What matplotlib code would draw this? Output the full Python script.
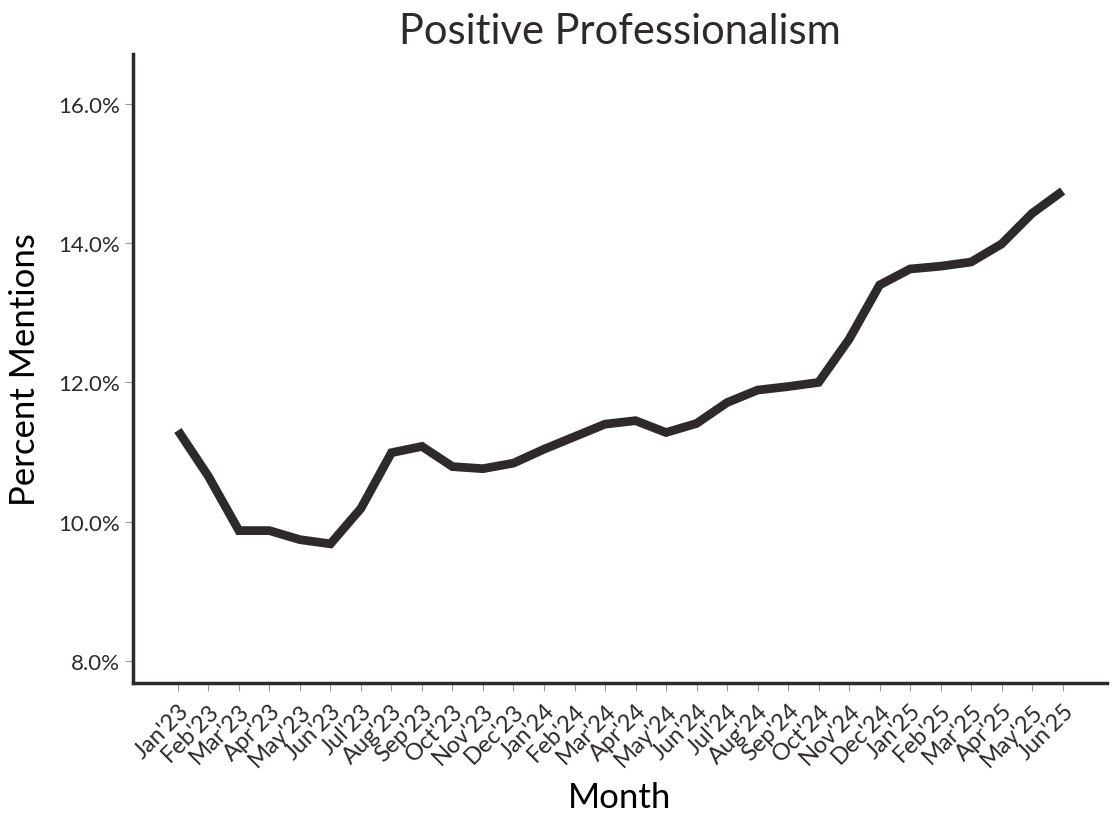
import matplotlib
matplotlib.use("Agg")
import matplotlib.pyplot as plt
from matplotlib.ticker import FuncFormatter

plt.rcParams['font.family'] = ['Lato', 'DejaVu Sans']

months = ["Jan'23", "Feb'23", "Mar'23", "Apr'23", "May'23", "Jun'23", "Jul'23", "Aug'23",
          "Sep'23", "Oct'23", "Nov'23", "Dec'23", "Jan'24", "Feb'24", "Mar'24", "Apr'24",
          "May'24", "Jun'24", "Jul'24", "Aug'24", "Sep'24", "Oct'24", "Nov'24", "Dec'24",
          "Jan'25", "Feb'25", "Mar'25", "Apr'25", "May'25", "Jun'25"]
values = [11.31, 10.65, 9.87, 9.87, 9.74, 9.68, 10.19, 10.99, 11.08, 10.79, 10.76, 10.84,
          11.04, 11.22, 11.40, 11.45, 11.28, 11.41, 11.71, 11.89, 11.94, 12.00, 12.62, 13.40,
          13.63, 13.67, 13.73, 13.99, 14.43, 14.75]
yticks = [8, 10, 12, 14, 16]

dark = '#2e292b'
fig = plt.figure(figsize=(11.2, 8.28), dpi=100)
ax = fig.add_axes([0.1188, 0.1739, 0.8692, 0.7597])
x = list(range(len(months)))
ax.plot(x, values, color=dark, linewidth=6.3, solid_joinstyle='miter', solid_capstyle='butt')

ax.set_xlim(-1.47, len(months) - 1 + 1.44)
ax.set_ylim(7.68, 16.72)
ax.set_yticks(yticks)
ax.yaxis.set_major_formatter(FuncFormatter(lambda v, p: f"{v:.1f}%"))
ax.set_xticks(x)
ax.set_xticklabels(months, rotation=45, ha='right', rotation_mode='anchor')

for s in ['top', 'right']:
    ax.spines[s].set_visible(False)
for s in ['left', 'bottom']:
    ax.spines[s].set_color(dark)
    ax.spines[s].set_linewidth(2.5)

ax.tick_params(axis='both', colors='#999999', length=6, width=0.8, labelcolor=dark, labelsize=16)
ax.tick_params(axis='x', pad=6, labelsize=17)

ax.set_title('Positive Professionalism', fontsize=30, color=dark, pad=8)
ax.set_ylabel('Percent Mentions', fontsize=25, color='black', labelpad=12)
ax.set_xlabel('Month', fontsize=25, color='black', labelpad=8)

fig.savefig('out.png', dpi=100)
